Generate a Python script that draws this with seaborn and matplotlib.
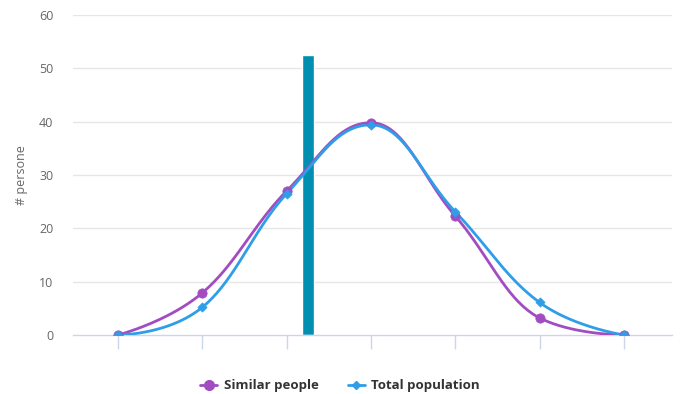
import numpy as np
import pandas as pd
import matplotlib.pyplot as plt
import seaborn as sns
from matplotlib.lines import Line2D

# data
positions = [0, 1, 2, 3, 4, 5, 6]
similar = [0, 7.9, 27.0, 39.8, 22.3, 3.2, 0]
total = [0, 5.2, 26.5, 39.4, 23.1, 6.1, 0]
bar_x = [2.25]
bar_h = [52.5]

C_SIM = "#a24cc2"
C_TOT = "#2f9ee8"
C_BAR = "#008fb0"


def spline_path(xs, ys, smoothing=1.5, n=40):
    """Highcharts-like spline through the points, sampled as polyline."""
    xs = list(map(float, xs))
    ys = list(map(float, ys))
    denom = smoothing + 1
    ctrl = []
    for i in range(len(xs)):
        if i == 0 or i == len(xs) - 1:
            ctrl.append((xs[i], ys[i], xs[i], ys[i]))
            continue
        lx = (smoothing * xs[i] + xs[i - 1]) / denom
        ly = (smoothing * ys[i] + ys[i - 1]) / denom
        rx = (smoothing * xs[i] + xs[i + 1]) / denom
        ry = (smoothing * ys[i] + ys[i + 1]) / denom
        if rx != lx:
            corr = (ry - ly) * (rx - xs[i]) / (rx - lx) + ys[i] - ry
            ly += corr
            ry += corr
        if ly > ys[i - 1] and ly > ys[i]:
            ly = max(ys[i - 1], ys[i]); ry = 2 * ys[i] - ly
        elif ly < ys[i - 1] and ly < ys[i]:
            ly = min(ys[i - 1], ys[i]); ry = 2 * ys[i] - ly
        if ry > ys[i + 1] and ry > ys[i]:
            ry = max(ys[i + 1], ys[i]); ly = 2 * ys[i] - ry
        elif ry < ys[i + 1] and ry < ys[i]:
            ry = min(ys[i + 1], ys[i]); ly = 2 * ys[i] - ry
        ctrl.append((lx, ly, rx, ry))
    px, py = [], []
    t = np.linspace(0, 1, n)
    for i in range(len(xs) - 1):
        p0 = np.array([xs[i], ys[i]])
        p1 = np.array([ctrl[i][2], ctrl[i][3]])
        p2 = np.array([ctrl[i + 1][0], ctrl[i + 1][1]])
        p3 = np.array([xs[i + 1], ys[i + 1]])
        pts = ((1 - t) ** 3)[:, None] * p0 + (3 * (1 - t) ** 2 * t)[:, None] * p1 \
            + (3 * (1 - t) * t ** 2)[:, None] * p2 + (t ** 3)[:, None] * p3
        px.extend(pts[:, 0]); py.extend(pts[:, 1])
    return px, py


sns.set_theme(style="white")
plt.rcParams["font.family"] = ["Open Sans", "DejaVu Sans"]

fig = plt.figure(figsize=(6.83, 3.94), dpi=100)
ax = fig.add_axes([73 / 683, 1 - 335 / 394, (672 - 73) / 683, (335 - 15) / 394])

for y in range(10, 70, 10):
    ax.axhline(y, color="#e6e6e6", lw=1, zorder=0)

ax.bar(bar_x, bar_h, width=0.14, color=C_BAR, zorder=1)

for vals, col, mk, ms in [(similar, C_SIM, "o", 45), (total, C_TOT, "D", 22)]:
    sx, sy = spline_path(positions, vals)
    curve = pd.DataFrame({"x": sx, "y": sy})
    sns.lineplot(data=curve, x="x", y="y", sort=False, color=col, lw=2,
                 ax=ax, zorder=3)
    pts = pd.DataFrame({"x": positions, "y": vals})
    sns.scatterplot(data=pts, x="x", y="y", color=col, marker=mk, s=ms,
                    edgecolor=col, linewidth=0.5, ax=ax, zorder=4)

ax.set_xlim(-0.534, 6.57)
ax.set_ylim(0, 60)
ax.set_yticks(range(0, 70, 10))
ax.set_xticks(positions)
ax.set_xticklabels([])
ax.set_xlabel("")
ax.set_ylabel("# persone", color="#666666", fontsize=9, labelpad=8)
ax.tick_params(axis="y", left=False, length=0, labelsize=9, labelcolor="#666666", pad=14)
ax.tick_params(axis="x", bottom=True, length=10, width=1, color="#ccd6eb", direction="out")
for side in ["top", "right", "left"]:
    ax.spines[side].set_visible(False)
ax.spines["bottom"].set_color("#ccd6eb")
ax.spines["bottom"].set_linewidth(1)
ax.spines["bottom"].set_zorder(2)

handles = [
    Line2D([], [], color=C_SIM, lw=2, marker="o", markersize=7),
    Line2D([], [], color=C_TOT, lw=2, marker="D", markersize=4.5),
]
leg = fig.legend(handles, ["Similar people", "Total population"],
                 loc="center", bbox_to_anchor=(340 / 683, 1 - 386 / 394),
                 ncol=2, frameon=False, handlelength=1.3, handletextpad=0.5,
                 columnspacing=2.2,
                 prop={"weight": "bold", "size": 9.5})
for t in leg.get_texts():
    t.set_color("#333333")

fig.savefig("out.png", dpi=100)
